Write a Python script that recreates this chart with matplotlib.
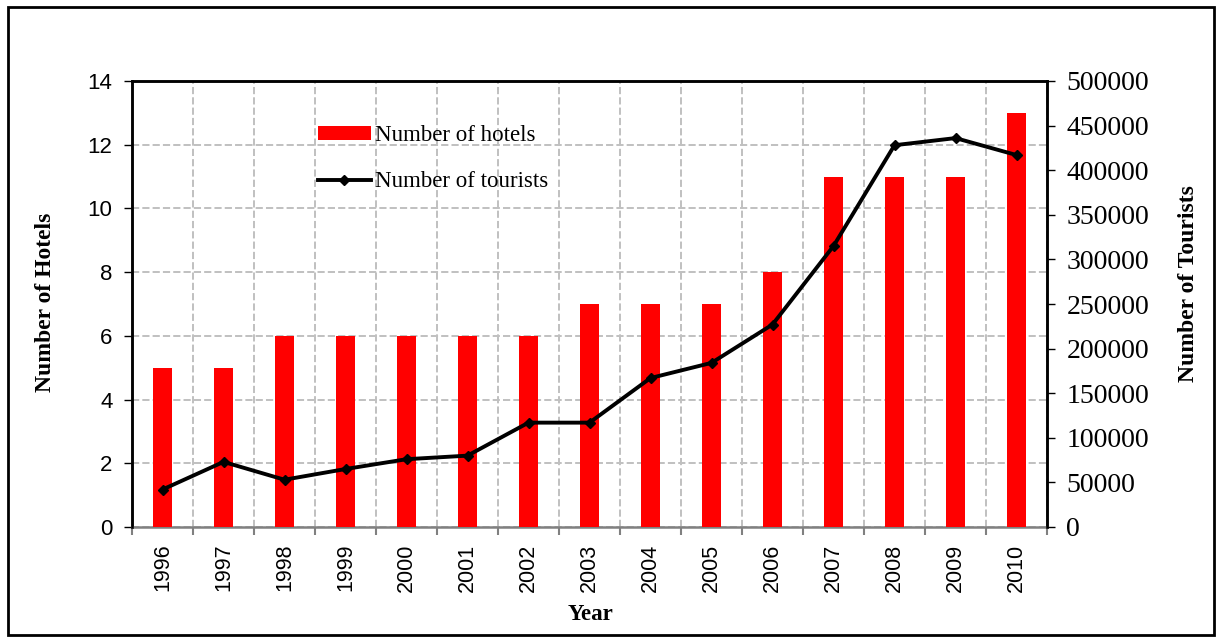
import matplotlib.pyplot as plt
from matplotlib.patches import Rectangle
import numpy as np

# data
years = ['1996', '1997', '1998', '1999', '2000', '2001', '2002', '2003',
         '2004', '2005', '2006', '2007', '2008', '2009', '2010']
hotels = [5, 5, 6, 6, 6, 6, 6, 7, 7, 7, 8, 11, 11, 11, 13]
tourists = [42000, 73000, 53000, 65000, 76000, 80000, 117000, 117000,
            167000, 184000, 227000, 315000, 428000, 436000, 417000]

fig = plt.figure(figsize=(12.17, 6.37), dpi=100)
ax = fig.add_axes([132/1217, 1 - 527/637, (1047 - 132)/1217, (527 - 81)/637])
ax2 = ax.twinx()

x = np.arange(len(years))
ax.bar(x, hotels, width=0.3, color='#ff0000', zorder=3, label='Number of hotels')
ax2.plot(x, tourists, color='black', lw=2.8, marker='D', ms=5,
         zorder=4, label='Number of tourists')

ax.set_xlim(-0.5, len(years) - 0.5)
ax.set_ylim(0, 14)
ax.set_yticks(np.arange(0, 15, 2))
ax2.set_ylim(0, 500000)
ax2.set_yticks(np.arange(0, 500001, 50000))

# category labels in the middle, ticks + grid on the boundaries
ax.set_xticks(x)
ax.set_xticklabels(years, rotation=90, fontsize=15.5, family='Liberation Sans')
ax.set_xticks(np.arange(-0.5, len(years)), minor=True)
ax.tick_params(axis='x', which='major', length=0, pad=12)
ax.tick_params(axis='x', which='minor', length=6, width=1.5, color='#808080',
               direction='out')
ax.grid(True, which='minor', axis='x', color='#c0c0c0', ls='--', lw=1.4, zorder=0)
ax.grid(True, which='major', axis='y', color='#c0c0c0', ls='--', lw=1.4, zorder=0)

ax.tick_params(axis='y', length=6, width=1, labelsize=16, pad=8)
for t in ax.get_yticklabels():
    t.set_family('Liberation Sans')
ax2.tick_params(axis='y', length=6, width=1, labelsize=20, pad=8)
for t in ax2.get_yticklabels():
    t.set_family('Liberation Serif')

for s in ['left', 'top', 'right']:
    ax.spines[s].set_linewidth(1.8)
    ax2.spines[s].set_linewidth(1.8)
ax.spines['bottom'].set_color('#808080')
ax.spines['bottom'].set_linewidth(1.8)
ax2.spines['bottom'].set_visible(False)

fig.text(46/1217, 1 - 302/637, 'Number of Hotels', rotation=90, ha='center',
         va='center', fontsize=17, fontweight='bold', family='Liberation Serif')
fig.text(1188/1217, 1 - 284/637, 'Number of Tourists', rotation=90, ha='center',
         va='center', fontsize=17, fontweight='bold', family='Liberation Serif')
fig.text(590/1217, 1 - 615/637, 'Year', ha='center', va='center',
         fontsize=16.5, fontweight='bold', family='Liberation Serif')

h1, l1 = ax.get_legend_handles_labels()
h2, l2 = ax2.get_legend_handles_labels()
fig.legend(h1 + h2, l1 + l2, loc='upper left', bbox_to_anchor=(318/1217, 1 - 125/637),
           frameon=False, prop={'family': 'Liberation Serif', 'size': 16.5},
           handlelength=2.3, handleheight=0.55, handletextpad=0.2,
           labelspacing=1.1, borderpad=0, borderaxespad=0)

fig.patches.append(Rectangle((8/1217, 2/637), 1206/1217, 628/637, fill=False,
                             lw=2, ec='black', transform=fig.transFigure))

fig.savefig('out.png', dpi=100)
